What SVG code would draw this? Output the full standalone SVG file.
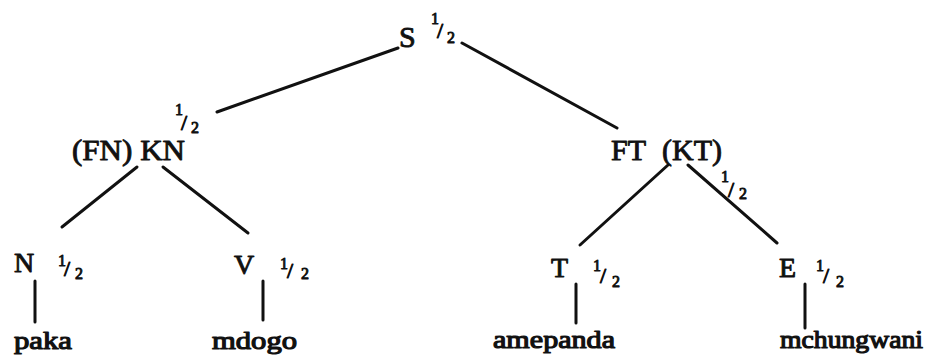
<svg xmlns="http://www.w3.org/2000/svg" width="929" height="360" viewBox="0 0 929 360">
<style>
text{font-family:"Liberation Serif","Times New Roman",serif;fill:#111;stroke:#111;stroke-linejoin:round}
.lbl{font-size:30px;stroke-width:0.9}
.leaf{font-size:28px;stroke-width:0.9}
.word{font-size:26px;stroke-width:1.2}
.fr{font-size:16px;stroke-width:0.9}
.sl{font-size:22px}
.edge{stroke:#111;stroke-width:3;stroke-linecap:round;fill:none}
</style>
<rect width="929" height="360" fill="#fff"/>
<g id="connectors">
<line class="edge" x1="398" y1="48" x2="217" y2="112"/>
<line class="edge" x1="462" y1="43" x2="617" y2="128"/>
<line class="edge" x1="137" y1="167" x2="62" y2="227"/>
<line class="edge" x1="163" y1="167" x2="248" y2="233"/>
<line class="edge" x1="668" y1="165" x2="580" y2="245"/>
<line class="edge" x1="688" y1="165" x2="777" y2="243"/>
<line class="edge" x1="35" y1="281" x2="35" y2="322"/>
<line class="edge" x1="263" y1="281" x2="263" y2="320"/>
<line class="edge" x1="576" y1="284" x2="576" y2="323"/>
<line class="edge" x1="805" y1="284" x2="805" y2="328"/>
</g>
<g id="node-S">
<text class="lbl" x="399" y="47" font-size="31">S</text>
<text class="fr"><tspan x="431" y="24">1</tspan><tspan class="sl" x="437" y="38">/</tspan><tspan x="447" y="43">2</tspan></text>
</g>
<g id="node-KN">
<text class="lbl" x="72" y="160" textLength="113" lengthAdjust="spacingAndGlyphs">(FN) KN</text>
<text class="fr"><tspan x="175" y="115">1</tspan><tspan class="sl" x="181" y="130">/</tspan><tspan x="191" y="133">2</tspan></text>
</g>
<g id="node-FT">
<text class="lbl" y="160"><tspan x="611">FT</tspan><tspan x="662">(KT)</tspan></text>
<text class="fr"><tspan x="721" y="182">1</tspan><tspan class="sl" x="728" y="197">/</tspan><tspan x="739" y="199">2</tspan></text>
</g>
<g id="node-N">
<text class="leaf" x="14" y="272">N</text>
<text class="fr"><tspan x="58" y="266">1</tspan><tspan class="sl" x="64" y="276">/</tspan><tspan x="75" y="279">2</tspan></text>
</g>
<g id="node-V">
<text class="leaf" x="234" y="274">V</text>
<text class="fr"><tspan x="280" y="269">1</tspan><tspan class="sl" x="287" y="278">/</tspan><tspan x="301" y="279">2</tspan></text>
</g>
<g id="node-T">
<text class="leaf" x="551" y="277">T</text>
<text class="fr"><tspan x="593" y="271">1</tspan><tspan class="sl" x="600" y="283">/</tspan><tspan x="612" y="287">2</tspan></text>
</g>
<g id="node-E">
<text class="leaf" x="779" y="277">E</text>
<text class="fr"><tspan x="816" y="271">1</tspan><tspan class="sl" x="823" y="283">/</tspan><tspan x="836" y="287">2</tspan></text>
</g>
<g id="leaf-paka">
<text class="word" x="14" y="349" textLength="58" lengthAdjust="spacingAndGlyphs">paka</text>
</g>
<g id="leaf-mdogo">
<text class="word" x="212" y="349" textLength="85" lengthAdjust="spacingAndGlyphs">mdogo</text>
</g>
<g id="leaf-amepanda">
<text class="word" x="493" y="348" textLength="122" lengthAdjust="spacingAndGlyphs">amepanda</text>
</g>
<g id="leaf-mchungwani">
<text class="word" x="780" y="348" textLength="143" lengthAdjust="spacingAndGlyphs">mchungwani</text>
</g>
</svg>
